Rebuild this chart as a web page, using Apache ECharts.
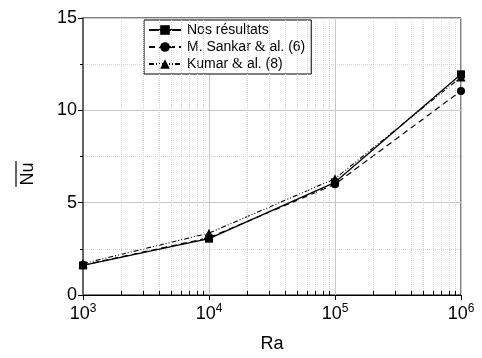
<!DOCTYPE html>
<html>
<head>
<meta charset="utf-8">
<script src="https://cdn.jsdelivr.net/npm/echarts@6/dist/echarts.min.js"></script>
<style>
  html, body { margin: 0; padding: 0; background: #fff; }
  #main { width: 482px; height: 358px; }
</style>
</head>
<body>
<div id="main"></div>
<script>
// Ra values (log axis)
var raValues = [1e3, 1e4, 1e5, 1e6];
// Nu moyen
var nosResultats = [1.6, 3.05, 6.1, 11.95];
var sankar = [1.62, 3.1, 6.0, 11.05];
var kumar = [1.7, 3.35, 6.3, 11.8];
// decades and sub-divisions for the minor grid
var decades = [1e3, 1e4, 1e5];
var minorSteps = [2, 3, 4, 5, 6, 7, 8, 9];

var FONT = 'Liberation Sans';

function pairs(ys) {
    return raValues.map(function (x, i) { return [x, ys[i]]; });
}

// lignes de grille secondaires + petites graduations
var minorLines = [];
var minorTicks = [];
decades.forEach(function (d) {
    minorSteps.forEach(function (m) {
        minorLines.push({ xAxis: d * m });
        minorTicks.push([{ coord: [d * m, 0] }, { coord: [d * m, 0.22] }]);
    });
});

function legendFmt(name) {
    if (name.indexOf('&') < 0) return name;
    var p = name.split('&');
    return p[0] + '{amp|&}' + p[1];
}

var option = {
    animation: false,
    textStyle: { fontFamily: FONT },
    grid: {
        left: 83, right: 21, top: 18, bottom: 59,
        show: true, borderColor: '#000', borderWidth: 1
    },
    legend: {
        left: 144, top: 20,
        orient: 'vertical',
        backgroundColor: '#fff',
        borderColor: '#000', borderWidth: 1,
        borderRadius: 0,
        padding: [3, 6, 3, 4],
        itemGap: 3,
        itemWidth: 32, itemHeight: 12,
        data: ['Nos résultats', 'M. Sankar & al. (6)', 'Kumar & al. (8)'],
        formatter: legendFmt,
        textStyle: {
            fontFamily: FONT, fontSize: 14, color: '#000', padding: [0, 0, 0, 1],
            rich: { amp: { fontFamily: 'Liberation Serif', fontSize: 14, color: '#000' } }
        }
    },
    xAxis: {
        type: 'log', logBase: 10, min: 1e3, max: 1e6,
        name: 'Ra', nameLocation: 'middle', nameGap: 40,
        nameTextStyle: { fontFamily: FONT, fontSize: 18, color: '#000' },
        axisLine: { lineStyle: { color: '#000', width: 1 } },
        axisTick: { show: true, inside: false, length: 5, lineStyle: { color: '#000' } },
        axisLabel: {
            margin: 8,
            color: '#000',
            formatter: function (v) {
                return '10{sup|' + Math.round(Math.log10(v)) + '}';
            },
            rich: {
                sup: { fontFamily: FONT, fontSize: 12, color: '#000', verticalAlign: 'top', padding: [0, 0, 10, 0] }
            },
            fontSize: 18, fontFamily: FONT
        },
        splitLine: { show: true, lineStyle: { color: '#c8c8c8', width: 1 } }
    },
    yAxis: {
        type: 'value', min: 0, max: 15, interval: 5,
        axisLine: { show: true, lineStyle: { color: '#666', width: 2 } },
        axisTick: { show: true, inside: false, length: 5, lineStyle: { color: '#000' } },
        minorTick: { show: true, splitNumber: 2, length: 3, lineStyle: { color: '#000' } },
        axisLabel: { fontSize: 18, color: '#000', fontFamily: FONT, margin: 6 },
        splitLine: { show: true, lineStyle: { color: '#c8c8c8', width: 1 } },
        minorSplitLine: { show: true, lineStyle: { color: '#d4d4d4', type: [1, 1], width: 1 } }
    },
    graphic: [
        {
            type: 'text', x: 28, y: 174, rotation: Math.PI / 2,
            style: { text: 'Nu', fontFamily: FONT, fontSize: 18, fill: '#000', align: 'center', verticalAlign: 'middle' }
        },
        {
            type: 'line', shape: { x1: 16, y1: 161, x2: 16, y2: 187 },
            style: { stroke: '#000', lineWidth: 1.2 }
        }
    ],
    series: [
        {
            name: '_grid', type: 'line', data: [], silent: true,
            markLine: {
                silent: true, symbol: 'none', label: { show: false },
                lineStyle: { color: '#d4d4d4', type: [1, 1], width: 1 },
                data: minorLines
            }
        },
        {
            name: '_ticks', type: 'line', data: [], silent: true,
            markLine: {
                silent: true, symbol: 'none', label: { show: false },
                lineStyle: { color: '#000', type: 'solid', width: 1 },
                data: minorTicks
            }
        },
        {
            name: 'Nos résultats', type: 'line', data: pairs(nosResultats),
            symbol: 'rect', symbolSize: 8, z: 5,
            itemStyle: { color: '#000' },
            lineStyle: { color: '#000', width: 1.3, type: 'solid' }
        },
        {
            name: 'M. Sankar & al. (6)', type: 'line', data: pairs(sankar),
            symbol: 'circle', symbolSize: 8, z: 4,
            itemStyle: { color: '#000' },
            lineStyle: { color: '#000', width: 1.2, type: [6, 4] }
        },
        {
            name: 'Kumar & al. (8)', type: 'line', data: pairs(kumar),
            symbol: 'triangle', symbolSize: 9, z: 3,
            itemStyle: { color: '#000' },
            lineStyle: { color: '#000', width: 1.1, type: [5, 2, 1, 2, 1, 2] }
        }
    ]
};

var chart = echarts.init(document.getElementById('main'));
chart.setOption(option);
</script>
</body>
</html>
